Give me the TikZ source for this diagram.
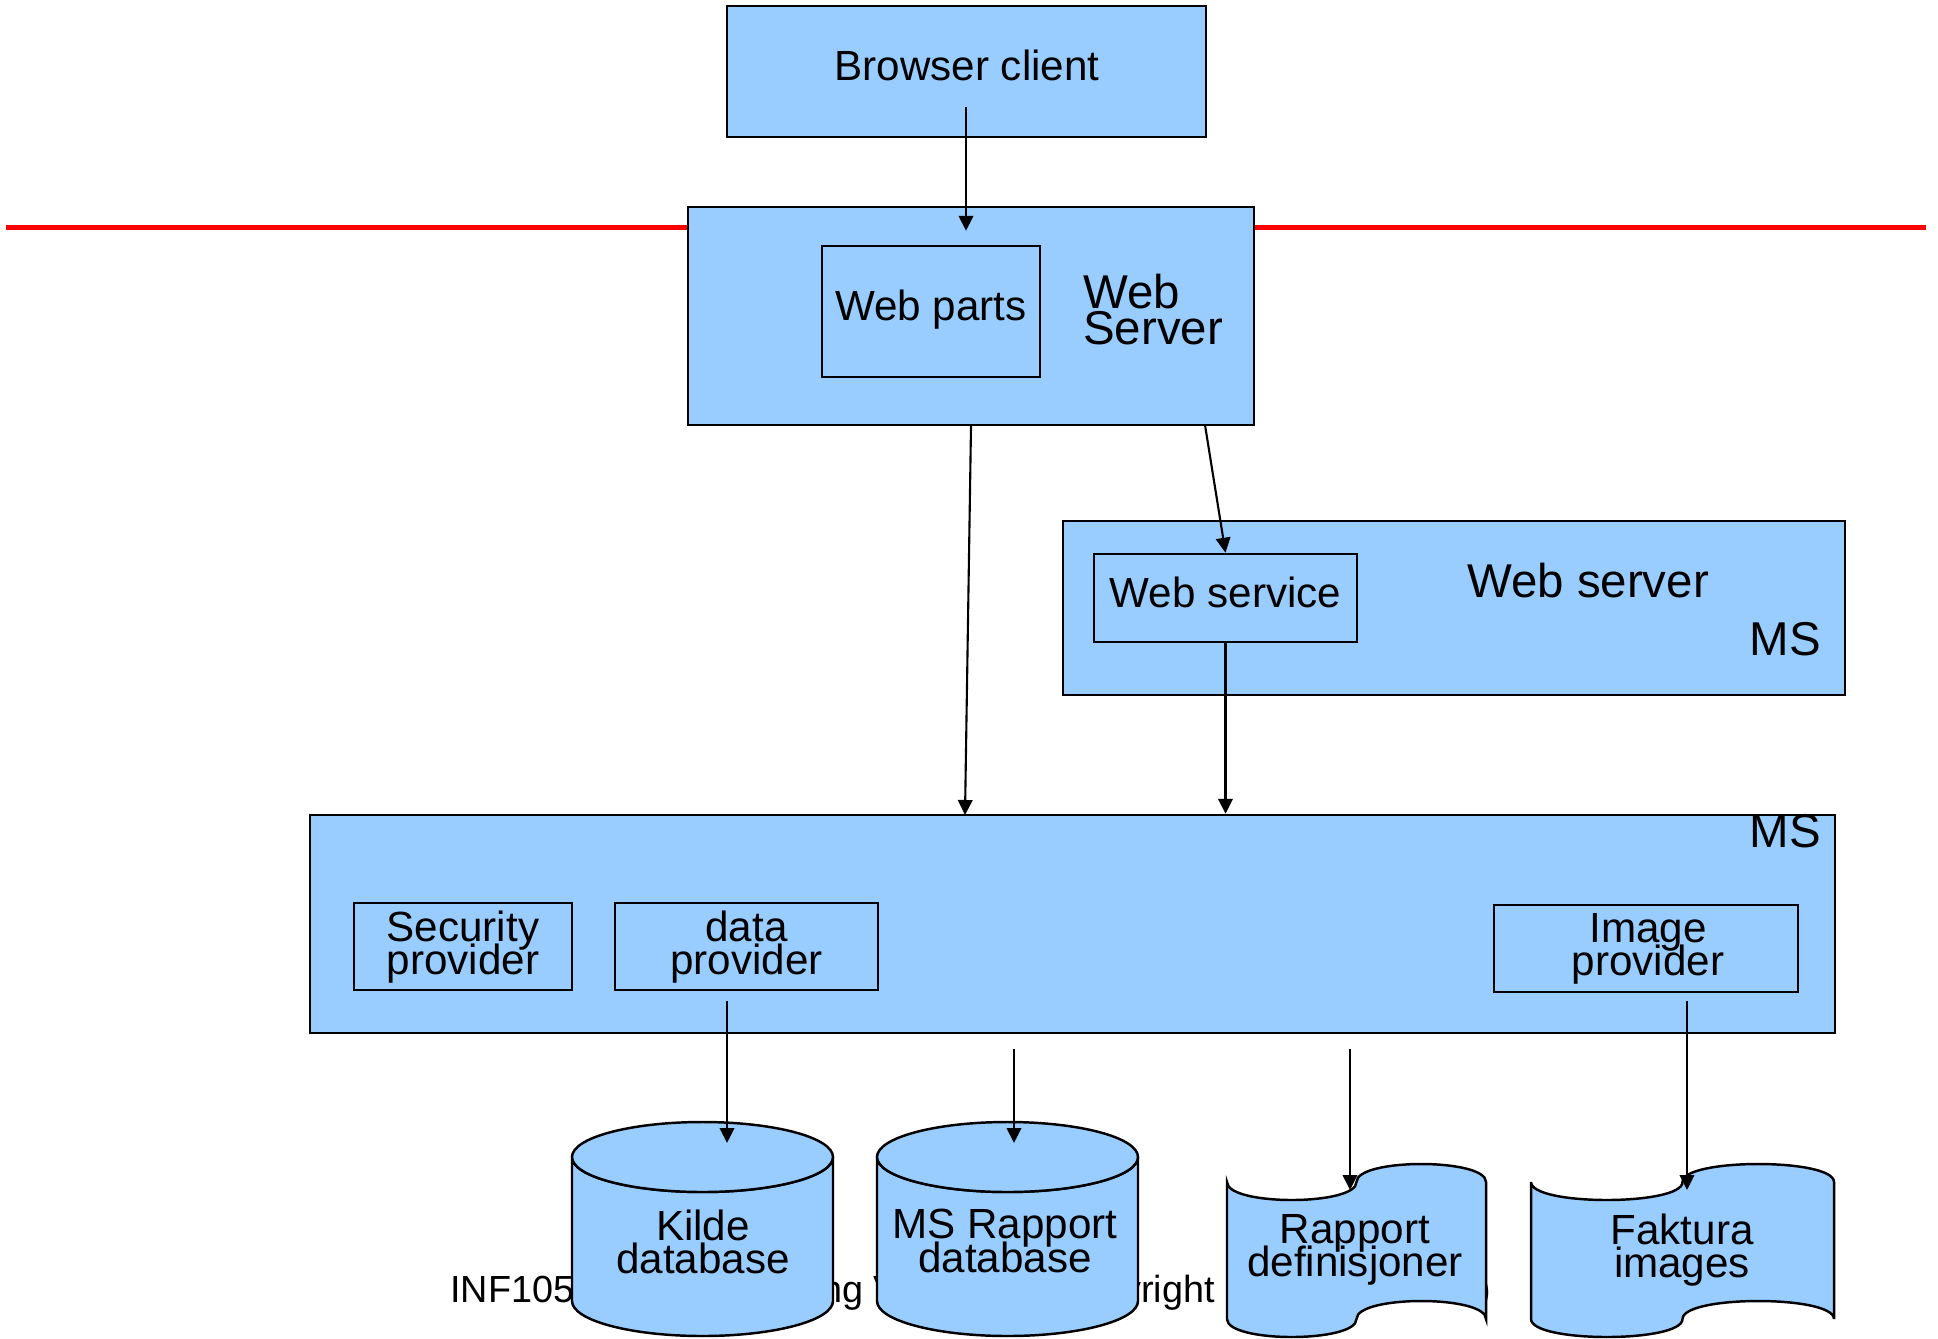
\documentclass[tikz,border=0pt]{standalone}
\usepackage{fontspec}
\setmainfont{Liberation Sans}
\usepackage{tikz}
\usetikzlibrary{arrows.meta, fit}
\definecolor{boxblue}{HTML}{99CCFF}
\lineskiplimit=-100pt

\begin{document}
\begin{tikzpicture}[x=0.2mm, y=-0.2mm, line width=1.4pt,
    box/.style={draw=black, fill=boxblue, inner sep=0pt},
    store/.style={draw=black, fill=boxblue},
    lbl/.style={inner sep=0pt, align=center, font=\fontsize{24}{18.8}\selectfont},
    biglbl/.style={inner sep=0pt, align=left, font=\fontsize{27}{20.5}\selectfont},
    footlbl/.style={inner sep=0pt, font=\fontsize{21.5}{24}\selectfont},
    link/.style={line width=1.2pt, -{Triangle[length=3mm, width=2.9mm]}}]

    % page size
    \path[use as bounding box, fill=white] (0, 0) rectangle (1938, 1338);

    % draw red line
    \draw[red, line width=2.85pt] (6, 227) -- (1926, 227);

    % draw outer boxes
    \node[box, fit={(727, 6) (1206, 137)}] (browser) {};
    \node[box, fit={(688, 207) (1254, 425)}] (websrv) {};
    \node[box, fit={(1063, 521) (1845, 695)}] (msweb) {};
    \node[box, fit={(310, 815) (1835, 1033)}] (msbox) {};

    % draw inner boxes
    \node[box, fit={(822, 246) (1040, 377)}] (webparts) {};
    \node[box, fit={(1094, 554) (1357, 642)}] (websvc) {};
    \node[box, fit={(354, 903) (572, 990)}] (secprov) {};
    \node[box, fit={(615, 903) (878, 990)}] (dataprov) {};
    \node[box, fit={(1494, 905) (1798, 992)}] (imgprov) {};

    % draw box labels
    \node[lbl, anchor=base] (browsertxt) at (967, 80) {Browser client};
    \node[lbl, anchor=base] (webpartstxt) at (931, 320) {Web parts};
    \node[biglbl, anchor=north west] (websrvtxt) at (1082, 273) {Web\\Server};
    \node[lbl, anchor=base] (websvctxt) at (1225.5, 607) {Web service};
    \node[biglbl, anchor=base] (mswebtxt) at (1588, 597) {Web server};
    \node[biglbl, anchor=base east] (mswebms) at (1822, 655) {MS};
    \node[biglbl, anchor=base east] (msboxms) at (1822, 847) {MS};
    \node[lbl, anchor=north] (sectxt) at (463, 909.3) {Security\\provider};
    \node[lbl, anchor=north] (datatxt) at (746.5, 909.8) {data\\provider};
    \node[lbl, anchor=north] (imgtxt) at (1648, 911.8) {Image\\provider};

    % draw footer text
    \node[footlbl, anchor=base west] (foot1) at (449, 1302) {INF105};
    \node[footlbl, anchor=base west] (foot2) at (820, 1302) {ng V};
    \node[footlbl, anchor=base east] (foot3) at (1216, 1302) {yright};
    \node[footlbl, anchor=base east] (foot4) at (1492, 1302) {)};

    % draw databases
    \filldraw[store] (572, 1157) -- (572, 1301)
      arc [start angle=180, end angle=0, x radius=130.5, y radius=35] -- (833, 1157)
      arc [start angle=0, end angle=180, x radius=130.5, y radius=35] -- cycle;
    \filldraw[store] (702.5, 1157) ellipse [x radius=130.5, y radius=35];
    \filldraw[store] (877, 1157) -- (877, 1301)
      arc [start angle=180, end angle=0, x radius=130.5, y radius=35] -- (1138, 1157)
      arc [start angle=0, end angle=180, x radius=130.5, y radius=35] -- cycle;
    \filldraw[store] (1007.5, 1157) ellipse [x radius=130.5, y radius=35];

    % draw punched tapes
    \filldraw[store] (1227, 1182) .. controls (1227, 1206) and (1356.5, 1206) .. (1356.5, 1182)
      .. controls (1356.5, 1158) and (1486, 1158) .. (1486, 1182) -- (1486, 1319)
      .. controls (1486, 1295) and (1356.5, 1295) .. (1356.5, 1319)
      .. controls (1356.5, 1343) and (1227, 1343) .. (1227, 1319) -- cycle;
    \filldraw[store] (1531, 1182) .. controls (1531, 1206) and (1682.5, 1206) .. (1682.5, 1182)
      .. controls (1682.5, 1158) and (1834, 1158) .. (1834, 1182) -- (1834, 1319)
      .. controls (1834, 1295) and (1682.5, 1295) .. (1682.5, 1319)
      .. controls (1682.5, 1343) and (1531, 1343) .. (1531, 1319) -- cycle;

    % draw store labels
    \node[lbl, anchor=north] (kildetxt) at (703, 1208.8) {Kilde\\database};
    \node[lbl, anchor=north] (rappdbtxt) at (1005, 1208.3) {MS Rapport\\database};
    \node[lbl, anchor=north] (rappdeftxt) at (1355, 1212.8) {Rapport\\definisjoner};
    \node[lbl, anchor=north] (fakturatxt) at (1682, 1212.8) {Faktura\\images};

    % draw arrows
    \coordinate (bcout) at (966, 107);
    \coordinate (wsout) at (1205, 425);
    \coordinate (msin) at (965, 815);
    \draw[link, shorten >=2.8mm] (bcout) -- (bcout |- webparts.north);
    \draw[link] (websrv.south) -- (msin);
    \draw[link] (wsout) -- (websvc.north);
    \draw[link] (websvc.south) -- (websvc.south |- msbox.north);

    % draw arrows down to the stores
    \coordinate (dpout) at (727, 1001);
    \coordinate (kildein) at (727, 1143);
    \coordinate (msout) at (1014, 1049);
    \coordinate (rappdbin) at (1014, 1143);
    \coordinate (defout) at (1350, 1049);
    \coordinate (rappdefin) at (1350, 1190);
    \coordinate (ipout) at (1687, 1001);
    \coordinate (fakturain) at (1687, 1190);
    \draw[link] (dpout) -- (kildein);
    \draw[link] (msout) -- (rappdbin);
    \draw[link] (defout) -- (rappdefin);
    \draw[link] (ipout) -- (fakturain);

\end{tikzpicture}
\end{document}
